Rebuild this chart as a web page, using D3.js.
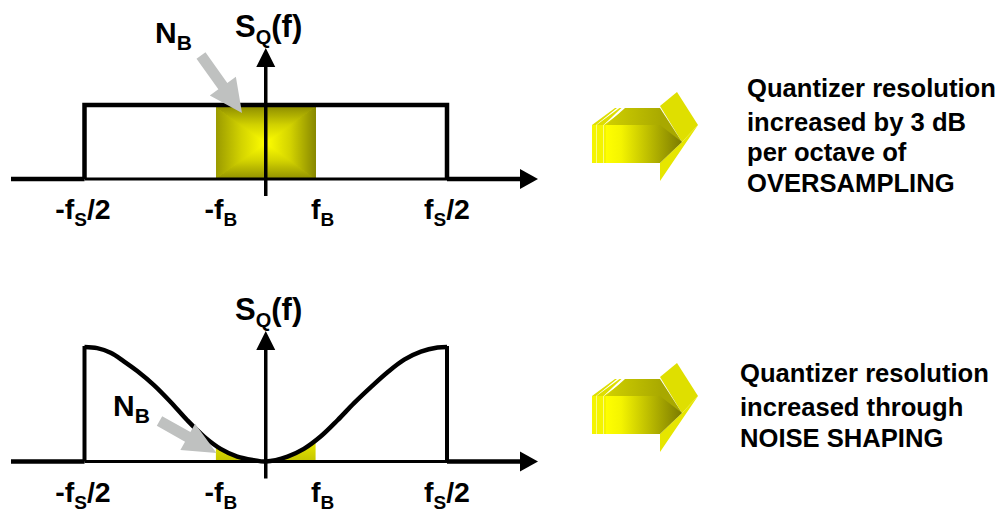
<!DOCTYPE html>
<html>
<head>
<meta charset="utf-8">
<script src="https://cdn.jsdelivr.net/npm/d3@7"></script>
<style>
    html, body { margin: 0; padding: 0; background: #fff; }
    text { font-family: "Liberation Sans", Arial, sans-serif; font-weight: bold; fill: #000; }
</style>
</head>
<body>
<svg id="chart" width="1000" height="512"></svg>
<script>
// values (frequency in units of fS/2, level 0..1)
const flatFreq = [-1, 1];
const flatLevel = [1, 1];
const shapedFreq = [-1, -0.93, -0.856, -0.783, -0.709, -0.617, -0.525, -0.433, -0.34, -0.249, -0.157, -0.065, 0, 0.12, 0.21, 0.304, 0.396, 0.487, 0.58, 0.672, 0.764, 0.856, 0.948, 1];
const shapedLevel = [1, 0.99, 0.95, 0.875, 0.79, 0.667, 0.52, 0.36, 0.217, 0.11, 0.043, 0.012, 0, 0.043, 0.11, 0.22, 0.36, 0.51, 0.65, 0.78, 0.89, 0.96, 0.995, 1];
const bandEdge = 0.275;
const tickValues = [-1, -bandEdge, bandEdge, 1];
const tickMain = ['-f', '-f', 'f', 'f'];
const tickSub = ['S', 'B', 'B', 'S'];
const tickTail = ['/2', '', '', '/2'];
const topNotes = ['Quantizer resolution', 'increased by 3 dB', 'per octave of', 'OVERSAMPLING'];
const bottomNotes = ['Quantizer resolution', 'increased through', 'NOISE SHAPING'];

const svg = d3.select('#chart');
const defs = svg.append('defs');

const x = d3.scaleLinear().domain([-1, 1]).range([84.5, 447]);
const yTop = d3.scaleLinear().domain([0, 1]).range([179, 105]);
const yBottom = d3.scaleLinear().domain([0, 1]).range([461.5, 347]);

function linearGradient(id, x1, y1, x2, y2, stops) {
    const g = defs.append('linearGradient')
        .attr('id', id)
        .attr('x1', x1).attr('y1', y1).attr('x2', x2).attr('y2', y2);
    stops.forEach(s => g.append('stop').attr('offset', s[0]).attr('stop-color', s[1]));
}

const CENTRE = '#ffff00', HALFWAY = '#d2d200';
linearGradient('boxL', 0, 0, 1, 0, [[0, '#9a9a00'], [0.5, HALFWAY], [1, CENTRE]]);
linearGradient('boxR', 1, 0, 0, 0, [[0, '#888800'], [0.5, HALFWAY], [1, CENTRE]]);
linearGradient('boxT', 0, 0, 0, 1, [[0, '#909000'], [0.5, HALFWAY], [1, CENTRE]]);
linearGradient('boxB', 0, 1, 0, 0, [[0, '#909000'], [0.5, HALFWAY], [1, CENTRE]]);
linearGradient('shapedFill', 0, 0, 0, 1, [[0, '#f2f200'], [0.8, '#ecec00'], [1, '#c4c400']]);
linearGradient('arrowFront', 0, 0, 1, 0, [[0, '#ffff00'], [0.2, '#f4f400'], [0.7, '#a8a800'], [1, '#7b7b00']]);
linearGradient('arrowTop', 0, 0, 1, 0, [[0, '#d0d000'], [1, '#aaaa00']]);

// shaded band, four triangles meeting at the centre point
function shadedBand(y) {
    const x0 = x(-bandEdge), x1 = x(bandEdge), y0 = y(1) + 2, y1 = y(0);
    const mid = [(x0 + x1) / 2, (y0 + y1) / 2];
    const faces = [
        ['boxT', [[x0, y0], [x1, y0], mid]],
        ['boxB', [[x0, y1], [x1, y1], mid]],
        ['boxL', [[x0, y0], mid, [x0, y1]]],
        ['boxR', [[x1, y0], mid, [x1, y1]]]
    ];
    faces.forEach(f => svg.append('polygon')
        .attr('points', f[1].join(' '))
        .attr('shape-rendering', 'crispEdges')
        .attr('fill', 'url(#' + f[0] + ')'));
}

function subscripted(sel, main, sub, tail, subSize) {
    sel.append('tspan').text(main);
    sel.append('tspan').attr('dy', 7).attr('font-size', subSize).text(sub);
    if (tail) sel.append('tspan').attr('dy', -7).text(tail);
}

// shared frame: axes, edges of the noise band, tick labels
function drawFrame(y, labelY, axisLabelY) {
    const base = y(0);
    const cx = x(0);

    // horizontal axis
    svg.append('line')
        .attr('x1', 11).attr('x2', x(-1)).attr('y1', base).attr('y2', base)
        .attr('stroke', '#000').attr('stroke-width', 4.5);
    svg.append('line')
        .attr('x1', x(-1)).attr('x2', x(1)).attr('y1', base).attr('y2', base)
        .attr('stroke', '#000').attr('stroke-width', 3);
    svg.append('line')
        .attr('x1', x(1)).attr('x2', 522).attr('y1', base).attr('y2', base)
        .attr('stroke', '#000').attr('stroke-width', 4.5);
    svg.append('polygon')
        .attr('points', [[520, base - 10], [538, base], [520, base + 10]].join(' '))
        .attr('fill', '#000');

    // vertical axis
    svg.append('line')
        .attr('x1', cx).attr('x2', cx).attr('y1', base + 17).attr('y2', axisLabelY + 30)
        .attr('stroke', '#000').attr('stroke-width', 3.5);
    svg.append('polygon')
        .attr('points', [[cx - 9.5, axisLabelY + 30], [cx, axisLabelY + 11], [cx + 9.5, axisLabelY + 30]].join(' '))
        .attr('fill', '#000');

    // axis name
    subscripted(svg.append('text').attr('x', 235).attr('y', axisLabelY).attr('font-size', 31),
        'S', 'Q', '(f)', 20);

    // tick labels
    tickValues.forEach((v, i) => {
        const t = svg.append('text')
            .attr('x', x(v) + [-1.5, 5, 7, 0][i])
            .attr('y', labelY)
            .attr('text-anchor', 'middle')
            .attr('font-size', 28.5);
        subscripted(t, tickMain[i], tickSub[i], tickTail[i], 19);
    });
}

function greyArrow(from, to, shaft, head, headLen) {
    const dx = to[0] - from[0], dy = to[1] - from[1];
    const len = Math.hypot(dx, dy);
    const ux = dx / len, uy = dy / len, nx = -uy, ny = ux;
    const bx = to[0] - ux * headLen, by = to[1] - uy * headLen;
    const pts = [
        [from[0] + nx * shaft, from[1] + ny * shaft],
        [bx + nx * shaft, by + ny * shaft],
        [bx + nx * head, by + ny * head],
        to,
        [bx - nx * head, by - ny * head],
        [bx - nx * shaft, by - ny * shaft],
        [from[0] - nx * shaft, from[1] - ny * shaft]
    ];
    svg.append('polygon').attr('points', pts.join(' ')).attr('fill', '#bfc1c0');
}

// block arrow in the middle column, drawn relative to its own corner
function blockArrow(ox, oy) {
    const g = svg.append('g').attr('transform', 'translate(' + ox + ',' + oy + ')');
    const poly = (pts, fill) => g.append('polygon').attr('points', pts.join(' ')).attr('fill', fill);

    // trailing slices
    [[0, 4], [4.5, 7], [12, 3]].forEach(s => {
        poly([[s[0], 0], [s[0] + s[1], 0], [s[0] + s[1], 38], [s[0], 38]], '#f4f400');
        poly([[s[0], 0], [s[0] + 23, -17], [s[0] + 25, -17], [s[0] + s[1], 0]], '#dede00');
    });
    poly([[14, 0], [33, -17], [68, -17], [68, 0]], 'url(#arrowTop)');
    // head
    poly([[68, -19], [85, -33], [106, 0], [90, 17]], '#dfdf00');
    poly([[90, 17], [106, 0], [68, 56], [68, 38]], '#e6e600');
    // dark wedge behind the head, then the front of the shaft
    poly([[68, -17], [90, 17], [68, 17]], '#a8a800');
    poly([[14, 0], [68, 0], [90, 17], [68, 38], [14, 38]], 'url(#arrowFront)');
}

function noteBlock(lines, tx, baselines) {
    lines.forEach((line, i) => {
        svg.append('text')
            .attr('x', tx).attr('y', baselines[i])
            .attr('font-size', 25.6)
            .text(line);
    });
}

// top panel, flat noise
shadedBand(yTop);
drawFrame(yTop, 219, 37);
svg.append('path')
    .attr('d', d3.line()
        .x(d => x(d[0]))
        .y(d => yTop(d[1]))([[flatFreq[0], 0], [flatFreq[0], flatLevel[0]], [flatFreq[1], flatLevel[1]], [flatFreq[1], 0]]))
    .attr('fill', 'none').attr('stroke', '#000').attr('stroke-width', 4.5);
greyArrow([201, 55.5], [242, 113], 5.5, 16, 33);
subscripted(svg.append('text').attr('x', 155).attr('y', 43).attr('font-size', 30), 'N', 'B', '', 21);

// bottom panel, shaped noise
const shaped = shapedFreq.map((f, i) => [f, shapedLevel[i]]);
defs.append('clipPath').attr('id', 'bandClip').append('rect')
    .attr('x', x(-bandEdge)).attr('y', 300)
    .attr('width', x(bandEdge) - x(-bandEdge)).attr('height', 170);
svg.append('path')
    .attr('d', d3.area()
        .x(d => x(d[0]))
        .y0(yBottom(0))
        .y1(d => yBottom(d[1]))
        .curve(d3.curveCatmullRom)(shaped))
    .attr('clip-path', 'url(#bandClip)')
    .attr('fill', 'url(#shapedFill)');
drawFrame(yBottom, 502, 320);
svg.append('path')
    .attr('d', d3.line()
        .x(d => x(d[0]))
        .y(d => yBottom(d[1]))
        .curve(d3.curveCatmullRom)(shaped))
    .attr('fill', 'none').attr('stroke', '#000').attr('stroke-width', 4.5);
svg.append('path')
    .attr('d', d3.line()([[x(-1), yBottom(0)], [x(-1), yBottom(1) - 1]]))
    .attr('stroke', '#000').attr('stroke-width', 4);
svg.append('path')
    .attr('d', d3.line()([[x(1), yBottom(0)], [x(1), yBottom(1) - 1]]))
    .attr('stroke', '#000').attr('stroke-width', 4);
greyArrow([159.5, 421], [216.5, 453], 5.5, 15, 33);
subscripted(svg.append('text').attr('x', 113).attr('y', 416).attr('font-size', 30), 'N', 'B', '', 21);

// right column
blockArrow(592, 125);
blockArrow(592, 396);
noteBlock(topNotes, 747, [97, 131, 161, 192]);
noteBlock(bottomNotes, 740, [382, 416, 447]);
</script>
</body>
</html>
